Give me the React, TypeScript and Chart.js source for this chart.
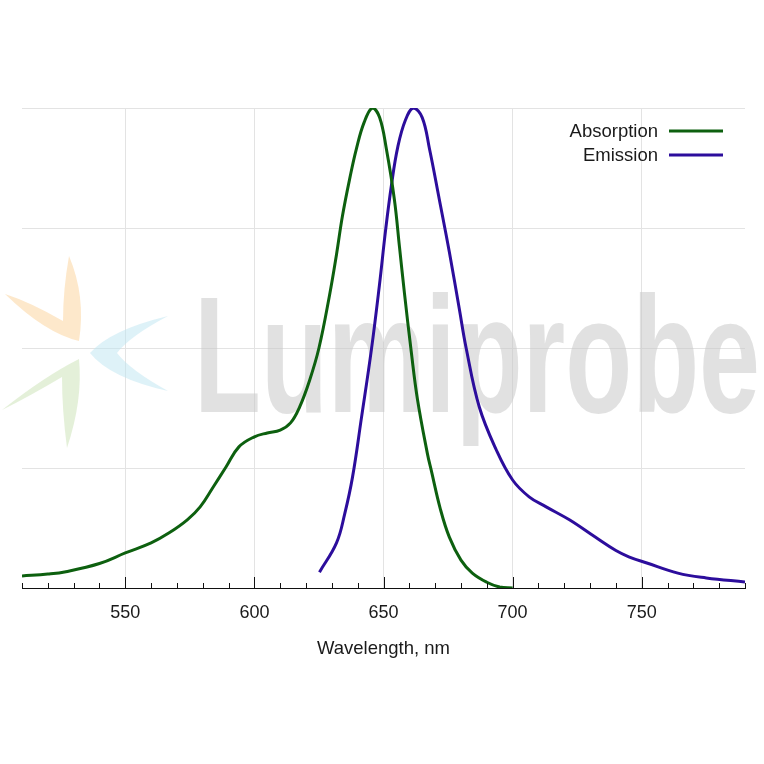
import React, { useEffect, useRef } from "react";
import { Chart, registerables } from "chart.js";

Chart.register(...registerables);

// ---- Data ----
const absorptionWavelength = [510, 520, 527, 540, 550, 560, 567, 574, 579, 584, 589, 594, 600, 605, 610, 614, 617.5, 621.4, 625, 629.1, 631.8, 634.1, 637, 639.5, 642.5, 645.7, 648.5, 651.1, 654.2, 656.2, 658.1, 660.8, 663.1, 667.0, 668.5, 672, 675.5, 680, 684.4, 690, 695, 700];
const absorptionValue = [0.025, 0.029, 0.034, 0.051, 0.073, 0.094, 0.115, 0.142, 0.169, 0.21, 0.252, 0.294, 0.315, 0.323, 0.329, 0.344, 0.377, 0.433, 0.5, 0.61, 0.695, 0.775, 0.855, 0.915, 0.97, 1.0, 0.98, 0.915, 0.81, 0.71, 0.615, 0.49, 0.395, 0.28, 0.245, 0.165, 0.106, 0.058, 0.031, 0.012, 0.002, 0.0];

const emissionWavelength = [625.2, 631.8, 635, 638, 641.5, 645.3, 648.4, 650.8, 653.1, 655.5, 658.5, 661.6, 665, 667.8, 671.6, 675.5, 679.4, 682, 687.1, 693.7, 700, 706.4, 713, 722, 732, 740, 745, 752, 764, 775, 790];
const emissionValue = [0.033, 0.094, 0.155, 0.231, 0.356, 0.496, 0.63, 0.745, 0.84, 0.918, 0.975, 1.0, 0.98, 0.915, 0.81, 0.7, 0.58, 0.5, 0.377, 0.2875, 0.225, 0.19, 0.169, 0.142, 0.106, 0.078, 0.065, 0.052, 0.031, 0.021, 0.0125];

const seriesLabels = ["Absorption", "Emission"];
const seriesColors = ["#0d600f", "#2c0d9c"];

const xMin = 510;
const xMax = 790;
const majorTicks = [550, 600, 650, 700, 750];
const minorTicks = [510, 520, 530, 540, 560, 570, 580, 590, 610, 620, 630, 640, 660, 670, 680, 690, 710, 720, 730, 740, 760, 770, 780, 790];
const yTicks = [0, 0.25, 0.5, 0.75, 1];
const axisTitle = "Wavelength, nm";
const watermarkText = "Lumiprobe";

const FONT = "'Liberation Sans', Arial, sans-serif";

const watermarkPlugin = {
  id: "watermark",
  beforeDatasetsDraw(chart: any) {
    const ctx = chart.ctx;
    ctx.save();
    const petal = (pts: number[][], color: string) => {
      ctx.beginPath();
      ctx.moveTo(pts[0][0], pts[0][1]);
      for (let i = 1; i < pts.length; i += 2) {
        ctx.quadraticCurveTo(pts[i][0], pts[i][1], pts[i + 1][0], pts[i + 1][1]);
      }
      ctx.closePath();
      ctx.fillStyle = color;
      ctx.fill();
    };
    // orange
    petal([[5, 294], [45, 333], [79, 341], [86, 296], [69, 256], [63, 290], [63, 321], [30, 302], [5, 294]], "rgba(252,214,160,0.55)");
    // blue
    petal([[168, 316], [110, 330], [90, 353], [110, 378], [168, 391], [130, 370], [117, 353], [130, 336], [168, 316]], "rgba(190,230,242,0.5)");
    // green
    petal([[2, 410], [45, 376], [79, 359], [83, 400], [67, 448], [62, 410], [62, 377], [30, 396], [2, 410]], "rgba(205,228,185,0.55)");

    // text
    const size = 165;
    ctx.font = `bold ${size}px ${FONT}`;
    const w = ctx.measureText(watermarkText).width;
    const targetW = 566;
    const sx = targetW / w;
    ctx.translate(194, 412);
    ctx.scale(sx, 1);
    ctx.fillStyle = "rgba(200,200,200,0.55)";
    ctx.textBaseline = "alphabetic";
    ctx.textAlign = "left";
    ctx.fillText(watermarkText, 0, 0);
    ctx.restore();
  },
};

const ticksPlugin = {
  id: "insideTicks",
  afterDraw(chart: any) {
    const ctx = chart.ctx;
    const xs = chart.scales.x;
    const bottom = chart.chartArea.bottom;
    ctx.save();
    ctx.strokeStyle = "#111";
    ctx.lineWidth = 1;
    const draw = (v: number, len: number) => {
      const px = Math.round(xs.getPixelForValue(v)) + 0.5;
      ctx.beginPath();
      ctx.moveTo(px, bottom);
      ctx.lineTo(px, bottom - len);
      ctx.stroke();
    };
    minorTicks.forEach((v) => draw(v, 5));
    majorTicks.forEach((v) => draw(v, 11));
    ctx.restore();
  },
};

const legendPlugin = {
  id: "customLegend",
  afterDraw(chart: any) {
    const ctx = chart.ctx;
    ctx.save();
    ctx.font = `18.5px ${FONT}`;
    ctx.textAlign = "right";
    ctx.textBaseline = "middle";
    chart.data.datasets.forEach((ds: any, i: number) => {
      const y = 132 + i * 24;
      ctx.fillStyle = "#1a1a1a";
      ctx.fillText(ds.label, 658, y);
      ctx.strokeStyle = ds.borderColor;
      ctx.lineWidth = 3;
      ctx.beginPath();
      ctx.moveTo(669, y - 1);
      ctx.lineTo(723, y - 1);
      ctx.stroke();
    });
    ctx.restore();
  },
};

export default function App() {
  const ref = useRef<HTMLCanvasElement | null>(null);
  useEffect(() => {
    document.body.style.margin = "0";
    document.body.style.background = "#ffffff";
    const canvas = ref.current!;
    const common = {
      borderWidth: 3,
      pointRadius: 0,
      tension: 0.4,
      fill: false,
    };
    const chart = new Chart(canvas, {
      type: "line",
      data: {
        datasets: [
          {
            label: seriesLabels[0],
            data: absorptionWavelength.map((x, i) => ({ x, y: absorptionValue[i] })),
            borderColor: seriesColors[0],
            ...common,
          },
          {
            label: seriesLabels[1],
            data: emissionWavelength.map((x, i) => ({ x, y: emissionValue[i] })),
            borderColor: seriesColors[1],
            ...common,
          },
        ],
      },
      options: {
        responsive: false,
        animation: false,
        devicePixelRatio: 1,
        layout: { padding: { left: 22, right: 19, top: 108, bottom: 0 } },
        plugins: {
          legend: { display: false },
          tooltip: { enabled: false },
        },
        scales: {
          x: {
            type: "linear",
            min: xMin,
            max: xMax,
            afterBuildTicks: (s: any) => {
              s.ticks = majorTicks.map((v) => ({ value: v }));
            },
            afterFit: (s: any) => {
              s.height = 176;
            },
            grid: { color: "#e3e3e3", lineWidth: 1, drawTicks: false },
            border: { display: true, color: "#111", width: 1 },
            ticks: {
              padding: 14,
              color: "#1a1a1a",
              font: { family: FONT, size: 18 },
              maxRotation: 0,
              autoSkip: false,
            },
            title: {
              display: true,
              text: axisTitle,
              color: "#1a1a1a",
              font: { family: FONT, size: 18.5 },
              padding: { top: 4, bottom: 104 },
            },
          },
          y: {
            type: "linear",
            min: 0,
            max: 1,
            afterBuildTicks: (s: any) => {
              s.ticks = yTicks.map((v) => ({ value: v }));
            },
            afterFit: (s: any) => {
              s.width = 0;
            },
            grid: { color: "#e3e3e3", lineWidth: 1, drawTicks: false },
            border: { display: false },
            ticks: { display: false },
          },
        },
      },
      plugins: [watermarkPlugin, ticksPlugin, legendPlugin],
    } as any);
    return () => chart.destroy();
  }, []);
  return (
    <div style={{ width: 764, height: 764, background: "#fff" }}>
      <canvas ref={ref} width={764} height={764} style={{ display: "block" }} />
    </div>
  );
}
